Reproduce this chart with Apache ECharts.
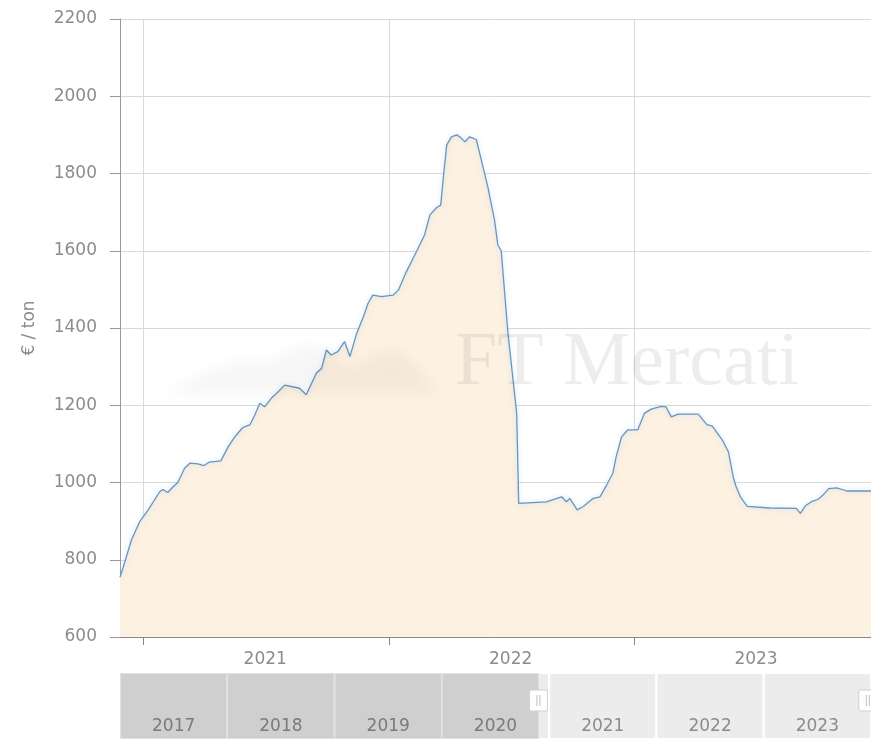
<!DOCTYPE html>
<html>
<head>
<meta charset="utf-8">
<script src="https://cdn.jsdelivr.net/npm/echarts@6/dist/echarts.min.js"></script>
<style>
  html, body { margin: 0; padding: 0; background: #fff; }
  #chart { width: 871px; height: 739px; }
</style>
</head>
<body>
<div id="chart"></div>
<script>
// prezzi (€ / ton)
const dates = [
  '2020-11-27','2020-12-02','2020-12-14','2020-12-26','2021-01-08','2021-01-25','2021-01-30','2021-02-06',
  '2021-02-14','2021-02-21','2021-03-03','2021-03-11','2021-03-23','2021-04-01','2021-04-09','2021-04-26',
  '2021-05-07','2021-05-17','2021-05-29','2021-06-08','2021-06-15','2021-06-23','2021-06-30','2021-07-10',
  '2021-07-18','2021-07-30','2021-08-21','2021-08-31','2021-09-15','2021-09-23','2021-09-30','2021-10-07',
  '2021-10-17','2021-10-27','2021-11-04','2021-11-14','2021-11-24','2021-12-01','2021-12-08','2021-12-21',
  '2022-01-07','2022-01-15','2022-01-27','2022-02-11','2022-02-23','2022-03-03','2022-03-13','2022-03-19',
  '2022-03-24','2022-03-28','2022-04-04','2022-04-12','2022-04-19','2022-04-24','2022-05-01','2022-05-11',
  '2022-05-16','2022-05-28','2022-06-07','2022-06-12','2022-06-17','2022-06-27','2022-07-10','2022-07-13',
  '2022-08-23','2022-09-15','2022-09-22','2022-09-27','2022-10-08','2022-10-17','2022-11-01','2022-11-11',
  '2022-11-21','2022-11-30','2022-12-05','2022-12-13','2022-12-22','2023-01-06','2023-01-16','2023-01-26',
  '2023-02-10','2023-02-17','2023-02-25','2023-03-07','2023-04-06','2023-04-19','2023-04-27','2023-05-12',
  '2023-05-21','2023-05-28','2023-06-01','2023-06-08','2023-06-18','2023-07-21','2023-08-30','2023-09-05',
  '2023-09-12','2023-09-22','2023-10-01','2023-10-09','2023-10-17','2023-10-29','2023-11-13','2023-12-19'
];
const prices = [
  755, 782, 851, 898, 929, 976, 982, 974,
  989, 1000, 1037, 1050, 1048, 1044, 1053, 1056,
  1093, 1119, 1143, 1149, 1173, 1205, 1196, 1218,
  1231, 1252, 1244, 1227, 1283, 1296, 1343, 1330,
  1339, 1365, 1326, 1386, 1429, 1464, 1485, 1481,
  1485, 1498, 1546, 1598, 1641, 1693, 1712, 1718,
  1809, 1874, 1895, 1900, 1891, 1882, 1895, 1888,
  1852, 1766, 1680, 1615, 1600, 1387, 1180, 946,
  950, 963, 950, 959, 929, 938, 959, 963,
  994, 1024, 1067, 1118, 1136, 1136, 1179, 1190,
  1197, 1196, 1170, 1177, 1177, 1150, 1146, 1110,
  1079, 1015, 991, 962, 938, 934, 933, 920,
  939, 951, 956, 968, 984, 986, 978, 978
];
const xRange = ['2020-11-27', '2023-12-19'];
const yearTicks = ['2021-01-01', '2022-01-01', '2023-01-01'];
const yearLabels = ['2021-07-01', '2022-07-01', '2023-07-01'];

// navigatore in basso
const navYears = [2017, 2018, 2019, 2020, 2021, 2022, 2023];
const navSel = [2020.9, 2023.97];

const myChart = echarts.init(document.getElementById('chart'));
const font = 'DejaVu Sans';
const ts = (d) => Date.parse(d);

let seriesData = dates.map((d, i) => [ts(d), prices[i]]);

// maniglia del navigatore (disegnata nel custom series)
const handleShape = (x, y) => ({
  type: 'group',
  children: [
    { type: 'rect', shape: { x: x - 9, y: y, width: 18, height: 21, r: 2 },
      style: { fill: '#fff', stroke: '#d0d0d0', lineWidth: 1 } },
    { type: 'line', shape: { x1: x - 1.5, y1: y + 5, x2: x - 1.5, y2: y + 16 }, style: { stroke: '#bdbdbd', lineWidth: 1 } },
    { type: 'line', shape: { x1: x + 1.5, y1: y + 5, x2: x + 1.5, y2: y + 16 }, style: { stroke: '#bdbdbd', lineWidth: 1 } }
  ]
});

// logo sfocato: la forma sta fuori schermo, si vede solo l'ombra
const OFF = 3000;
const logoPts = [[165, 394], [205, 372], [240, 360], [262, 364], [285, 352], [305, 345], [330, 350], [352, 368],
  [372, 356], [392, 348], [412, 360], [440, 394]].map(p => [p[0] - OFF, p[1]]);

let option = {
  backgroundColor: '#fff',
  animation: false,
  grid: [
    { left: 120, right: 0, top: 19, bottom: 102 },
    { left: 120, width: 755, top: 673, height: 80 }
  ],
  xAxis: [
    {
      type: 'value',
      gridIndex: 0,
      min: ts(xRange[0]),
      max: ts(xRange[1]),
      axisLine: { show: true, lineStyle: { color: '#888', width: 1 } },
      axisTick: { show: true, length: 8, customValues: yearTicks.map(ts), lineStyle: { color: '#888' } },
      splitLine: { show: true, lineStyle: { color: '#d9d9d9' } },
      axisLabel: {
        customValues: yearLabels.map(ts),
        margin: 14,
        color: '#8c8c8c',
        fontFamily: font,
        fontSize: 17,
        formatter: (v) => String(new Date(v).getUTCFullYear())
      }
    },
    { type: 'value', gridIndex: 1, min: 2017, max: 2024, show: false }
  ],
  yAxis: [
    {
      type: 'value',
      gridIndex: 0,
      min: 600,
      max: 2200,
      interval: 200,
      name: '€ / ton',
      nameLocation: 'middle',
      nameGap: 82,
      nameRotate: 90,
      nameTextStyle: { color: '#8c8c8c', fontFamily: font, fontSize: 17 },
      axisLine: { show: true, lineStyle: { color: '#999' } },
      axisTick: { show: true, length: 10, lineStyle: { color: '#999' } },
      splitLine: { show: true, lineStyle: { color: '#d9d9d9' } },
      axisLabel: {
        margin: 23, color: '#8c8c8c', fontFamily: font, fontSize: 17,
        formatter: (v) => String(v)
      }
    },
    { type: 'value', gridIndex: 1, min: 0, max: 1, show: false }
  ],
  series: [
    {
      type: 'line',
      xAxisIndex: 0,
      yAxisIndex: 0,
      data: seriesData,
      showSymbol: false,
      smooth: false,
      lineStyle: {
        color: '#6a94bf',
        width: 1.3,
        shadowColor: 'rgba(160,205,240,0.7)',
        shadowBlur: 5
      },
      areaStyle: { color: '#fdf1e1', opacity: 1, origin: 'start' },
      z: 2
    },
    {
      // celle degli anni
      type: 'custom',
      xAxisIndex: 1,
      yAxisIndex: 1,
      data: navYears.map(y => [y, y + 1, y]),
      renderItem: (params, api) => {
        const p0 = api.coord([api.value(0), 1]);
        const p1 = api.coord([api.value(1), 0]);
        return {
          type: 'group',
          children: [
            {
              type: 'rect',
              shape: { x: p0[0], y: p0[1], width: p1[0] - p0[0], height: p1[1] - p0[1] },
              style: { fill: '#ececec', stroke: '#fff', lineWidth: 2 }
            },
            {
              type: 'text',
              style: {
                text: String(api.value(2)),
                x: (p0[0] + p1[0]) / 2,
                y: p0[1] + 54,
                align: 'center',
                verticalAlign: 'middle',
                fill: '#8c8c8c',
                font: '17px "DejaVu Sans"'
              }
            }
          ]
        };
      },
      z: 1
    },
    {
      // maschera non selezionata + maniglie
      type: 'custom',
      xAxisIndex: 1,
      yAxisIndex: 1,
      data: [[2017, navSel[0], navSel[1]]],
      renderItem: (params, api) => {
        const p0 = api.coord([api.value(0), 1]);
        const p1 = api.coord([api.value(1), 0]);
        const p2 = api.coord([api.value(2), 0]);
        return {
          type: 'group',
          children: [
            {
              type: 'rect',
              shape: { x: p0[0], y: p0[1], width: p1[0] - p0[0], height: p1[1] - p0[1] },
              style: { fill: 'rgba(0,0,0,0.12)' }
            },
            handleShape(p1[0], p0[1] + 17),
            handleShape(p2[0], p0[1] + 17)
          ]
        };
      },
      z: 3
    }
  ],
  graphic: [
    {
      type: 'polygon',
      z: 5,
      shape: { points: logoPts },
      style: {
        fill: '#000',
        shadowBlur: 14,
        shadowOffsetX: OFF,
        shadowColor: 'rgba(0,0,0,0.035)'
      }
    },
    {
      type: 'text',
      z: 5,
      left: 455,
      top: 326,
      style: {
        text: 'FT Mercati',
        font: '76px "Liberation Serif"',
        fill: 'rgba(0,0,0,0.07)'
      }
    }
  ]
};
myChart.setOption(option);
</script>
</body>
</html>
